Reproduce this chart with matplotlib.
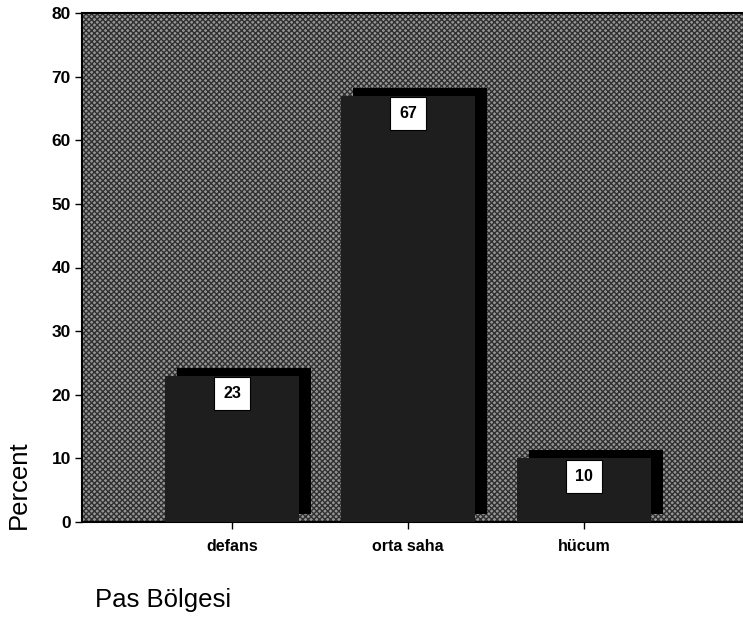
import matplotlib.pyplot as plt
import matplotlib.transforms as mtransforms
from matplotlib.patches import Rectangle

categories = ["defans", "orta saha", "hücum"]
percents = [23, 67, 10]
y_ticks = [0, 10, 20, 30, 40, 50, 60, 70, 80]

plt.rcParams["font.family"] = ["Liberation Sans", "DejaVu Sans"]

fig = plt.figure(figsize=(7.43, 6.21), dpi=100)
ax = fig.add_axes([82 / 743, 1 - 522 / 621, (743 - 82) / 743, (522 - 13) / 621])

# dithered gray background of the plot area
ax.set_facecolor("#959595")
bg = Rectangle((0, 0), 1, 1, transform=ax.transAxes, facecolor="none",
               edgecolor="#303030", hatch="xxxxxx", linewidth=0, zorder=0)
ax.add_patch(bg)

x = list(range(len(categories)))
width = 0.76

# shadow (3D depth) shifted up and right
shadow_tr = ax.transData + mtransforms.ScaledTranslation(12 / 100, 8 / 100, fig.dpi_scale_trans)
ax.bar(x, percents, width=width, color="black", transform=shadow_tr, zorder=2)
ax.bar(x, percents, width=width, color="#1e1e1e", zorder=3)

for xi, v in zip(x, percents):
    ax.annotate(str(v), (xi, v), xytext=(0, -13), textcoords="offset points",
                ha="center", va="center", fontsize=11.5, fontweight="bold",
                bbox=dict(boxstyle="square,pad=0.55", facecolor="white", edgecolor="black", lw=0.8),
                zorder=5)

ax.set_xlim(-0.852, 2.903)
ax.set_ylim(0, 80)
ax.set_yticks(y_ticks)
ax.set_yticklabels([str(t) for t in y_ticks], fontsize=12.5, fontweight="bold")
ax.set_xticks(x)
ax.set_xticklabels(categories, fontsize=11.5, fontweight="bold")
ax.tick_params(axis="both", length=5, width=1, colors="black", direction="out", pad=3)
ax.tick_params(axis="x", pad=7)

for side in ["left", "bottom", "top"]:
    ax.spines[side].set_linewidth(1.5)
    ax.spines[side].set_color("black")
ax.spines["right"].set_visible(False)

fig.text(19 / 743, 1 - 485 / 621, "Percent", rotation=90, ha="center", va="center", fontsize=18.5)
fig.text(95 / 743, 1 - 600 / 621, "Pas Bölgesi", ha="left", va="center", fontsize=18.5)

fig.savefig("out.png", dpi=100)
